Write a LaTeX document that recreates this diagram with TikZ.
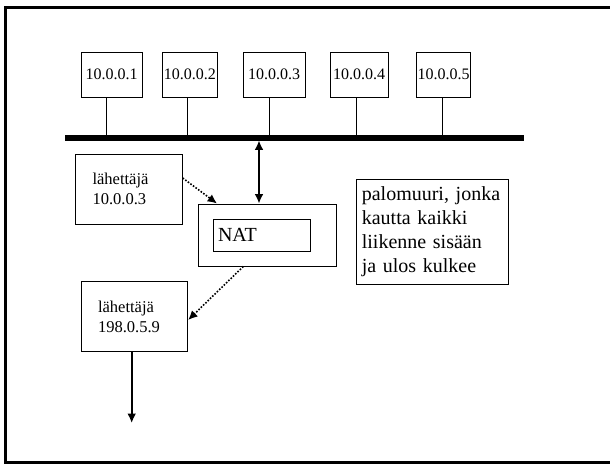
\documentclass[tikz,border=0pt]{standalone}
\usepackage{fontspec}
\setmainfont{Liberation Serif}
\usetikzlibrary{shapes,arrows.meta}
\tikzstyle{host} = [draw, line width=0.75pt, rectangle, inner sep=1pt,
    minimum height=33.75pt, font=\fontsize{12}{14}\selectfont]
\tikzstyle{sender} = [draw, line width=0.75pt, rectangle, align=left,
    inner xsep=12.5pt, text width=54.75pt, minimum height=52.5pt,
    font=\fontsize{12.4}{15}\selectfont]
\tikzstyle{natbox} = [draw, line width=0.75pt, rectangle, align=left,
    inner xsep=3.75pt, text width=65.25pt, minimum height=24pt,
    font=\fontsize{15}{18}\selectfont]
\tikzstyle{fwbox} = [draw, line width=0.75pt, rectangle,
    minimum width=103.5pt, minimum height=46.5pt]
\tikzstyle{note} = [draw, line width=0.75pt, rectangle, align=left,
    inner xsep=4.3pt, text width=106pt, minimum height=78.75pt,
    font=\fontsize{15}{18}\selectfont]
\tikzstyle{bus} = [line width=4pt]
\tikzstyle{stem} = [line width=0.75pt]
\tikzstyle{flow} = [line width=1.25pt, -{Latex[length=7pt,width=6.5pt]}]
\tikzstyle{twoway} = [line width=1.25pt,
    {Latex[length=7pt,width=6.5pt]}-{Latex[length=7pt,width=6.5pt]}]
\tikzstyle{hop} = [line width=1.2pt, dash pattern=on 1.2pt off 1.2pt,
    -{Latex[length=7pt,width=6.5pt]}]
\tikzstyle{frame} = [line width=2.1pt]
\begin{document}
\begin{tikzpicture}[x=0.75pt, y=-0.75pt]
    \useasboundingbox (0,0) rectangle (610,464);
    \draw [frame] (610,7.3) -- (5.5,7.3) -- (5.5,462.3) -- (610,462.3);

    % The hosts on the local network
    \node [host, minimum width=45.75pt] (h1) at (111.5,74.5) {10.0.0.1};
    \node [host, minimum width=41.6pt] (h2) at (189.75,74.5) {10.0.0.2};
    \node [host, minimum width=46.5pt] (h3) at (274,74.5) {10.0.0.3};
    \node [host, minimum width=43.5pt] (h4) at (359,74.5) {10.0.0.4};
    \node [host, minimum width=39.75pt] (h5) at (443.5,74.5) {10.0.0.5};

    % The bus and the taps where the hosts join it
    \coordinate (busL) at (65,138);
    \coordinate (busR) at (524,138);
    \draw [bus] (busL) -- (busR);
    \coordinate (t1) at (106,135.5);
    \coordinate (t2) at (187.7,135.5);
    \coordinate (t3) at (269.3,135.5);
    \coordinate (t4) at (356,135.5);
    \coordinate (t5) at (442.3,135.5);
    \draw [stem] (h1.south -| t1) -- (t1);
    \draw [stem] (h2.south -| t2) -- (t2);
    \draw [stem] (h3.south -| t3) -- (t3);
    \draw [stem] (h4.south -| t4) -- (t4);
    \draw [stem] (h5.south -| t5) -- (t5);

    % The firewall with the NAT inside it
    \node [fwbox] (fw) at (267,235) {};
    \node [natbox] (nat) at (261.5,235) {NAT};
    \node [note] (note) at (432.5,231.5)
        {palomuuri, jonka\\kautta kaikki\\liikenne sis\"a\"an\\ja ulos kulkee};

    % The sender before and after the translation
    \node [sender] (s1) at (129,189) {l\"ahett\"aj\"a\\10.0.0.3};
    \node [sender] (s2) at (134.5,316.5) {l\"ahett\"aj\"a\\198.0.5.9};

    % Once the nodes are placed, connecting them is easy.
    \coordinate (tap) at (259,140.5);
    \draw [twoway] (tap) -- (tap |- fw.north);
    \draw [hop] ([yshift=8.25pt]s1.east) -- ([xshift=-37.5pt]fw.north);
    \draw [hop] ([xshift=-17.8pt]fw.south) -- ([yshift=-2.6pt]s2.east);
    \coordinate (out) at (131.7,423);
    \draw [flow] (s2.south -| out) -- (out);
\end{tikzpicture}
\end{document}
